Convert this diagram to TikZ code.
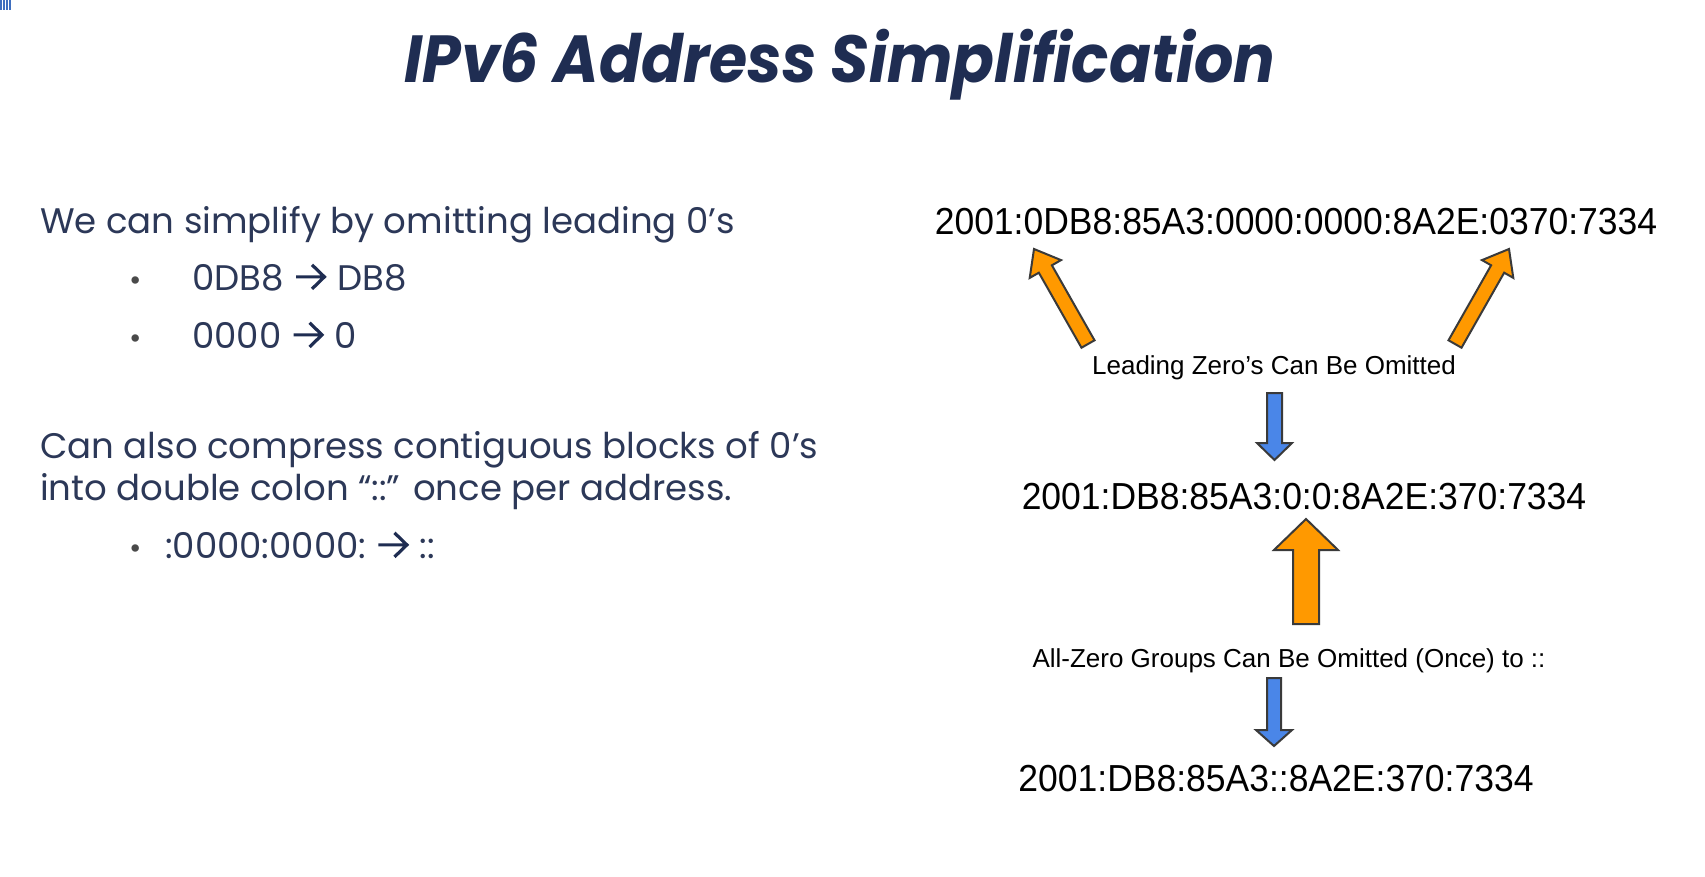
\documentclass[tikz,border=0pt]{standalone}
\usepackage{fontspec}
\usetikzlibrary{calc}
\newfontfamily\bodyfont{Poppins}
\newfontfamily\addrfont{Liberation Sans}
\definecolor{navy}{HTML}{1F2D52}
\definecolor{bodyblue}{HTML}{2C3858}
\definecolor{bulletgray}{HTML}{4A4A4A}
\definecolor{arroworange}{HTML}{FF9900}
\definecolor{arrowblue}{HTML}{4A86E8}
\definecolor{arrowedge}{HTML}{3A3A3A}
\definecolor{logoblue}{HTML}{3F6FBF}

% block arrow: #1 style, #2 tail, #3 tip, #4 shaft half width, #5 head half width, #6 head length (all in pt)
\newcommand{\blockarrow}[6]{%
  \coordinate (ba-base) at ($(#3)!#6pt!(#2)$);
  \draw[#1] ($(#2)!#4pt!90:(#3)$) -- ($(ba-base)!#4pt!90:(#3)$) -- ($(ba-base)!#5pt!90:(#3)$)
    -- (#3) -- ($(ba-base)!#5pt!-90:(#3)$) -- ($(ba-base)!#4pt!-90:(#3)$) -- ($(#2)!#4pt!-90:(#3)$) -- cycle;}

% bold chevron arrow used inside the bullet text, with its spacing
\newcommand{\rarr}{\hspace{0.3em}\tikz[baseline=0pt,x=1em,y=1em]
  \draw[navy, line width=0.09em, line cap=butt, line join=miter]
    (0,0.37) -- (0.78,0.37) (0.45,0.71) -- (0.8,0.37) -- (0.45,0.03);\hspace{0.32em}}

\begin{document}
\begin{tikzpicture}[x=1pt,y=-1pt,
  titletext/.style={anchor=base, inner sep=0pt, text=navy, font=\bodyfont\bfseries\itshape},
  bodytext/.style={anchor=base west, inner sep=0pt, text=bodyblue, font=\bodyfont\fontsize{35.5}{40}\selectfont},
  bullet/.style={anchor=base, inner sep=0pt, text=bulletgray, font=\bodyfont\fontsize{30}{34}\selectfont},
  addr/.style={anchor=base, inner sep=0pt, text=black, font=\addrfont\fontsize{35.5}{40}\selectfont},
  note/.style={anchor=base, inner sep=0pt, text=black, font=\addrfont\fontsize{26}{30}\selectfont},
  orangearrow/.style={fill=arroworange, draw=arrowedge, line width=2pt, line join=miter},
  bluearrow/.style={fill=arrowblue, draw=arrowedge, line width=2pt, line join=miter}]

\useasboundingbox (0,0) rectangle (1705,876);
\fill[white] (0,0) rectangle (1705,876);

% corner mark
\foreach \i in {0,1,2,3} \fill[logoblue] (\i*3,0) rectangle ++(2,10);

% title
\node[titletext] (title) at (840,82) {\resizebox*{871pt}{71pt}{IPv6 Address Simplification}};

% left column
\node[bodytext] (t1) at (40,233) {We can simplify by omitting leading 0’s};
\node[bullet] (b1) at (136,290) {•};
\node[bodytext] (t1a) at (192,290) {0DB8\rarr DB8};
\node[bullet] (b2) at (136,348) {•};
\node[bodytext] (t1b) at (192,348) {0000\rarr 0};
\node[bodytext] (t2) at (40,458) {Can also compress contiguous blocks of 0’s};
\node[bodytext] (t3) at (40,500) {into double colon “::” once per address.};
\node[bullet] (b3) at (136,558) {•};
\node[bodytext] (t3a) at (165,558) {:0000:0000:\rarr ::};

% right column
\node[addr] (a1) at (1296,234) {\scalebox{1}[1.06]{2001:0DB8:85A3:0000:0000:8A2E:0370:7334}};
\node[note] (n1) at (1274,374) {Leading Zero’s Can Be Omitted};
\node[addr] (a2) at (1304,509) {\scalebox{1}[1.06]{2001:DB8:85A3:0:0:8A2E:370:7334}};
\node[note] (n2) at (1289,667) {All-Zero Groups Can Be Omitted (Once) to ::};
\node[addr] (a3) at (1276,791) {\scalebox{1}[1.06]{2001:DB8:85A3::8A2E:370:7334}};

% arrow end points
\coordinate (l-tail) at (1088,344);
\coordinate (l-tip) at (1034,249);
\coordinate (r-tail) at (1455,344);
\coordinate (r-tip) at (1509,249);
\coordinate (d1-tail) at (1274.5,393);
\coordinate (d1-tip) at (1274.5,460);
\coordinate (u-tail) at (1306,624);
\coordinate (u-tip) at (1306,519);
\coordinate (d2-tail) at (1274,678);
\coordinate (d2-tip) at (1274,746);

\blockarrow{orangearrow}{l-tail}{l-tip}{7.5}{18}{23}
\blockarrow{orangearrow}{r-tail}{r-tip}{7.5}{18}{23}
\blockarrow{bluearrow}{d1-tail}{d1-tip}{7.5}{17.5}{17}
\blockarrow{orangearrow}{u-tail}{u-tip}{13}{32}{31}
\blockarrow{bluearrow}{d2-tail}{d2-tip}{7}{18}{16}
\end{tikzpicture}
\end{document}
